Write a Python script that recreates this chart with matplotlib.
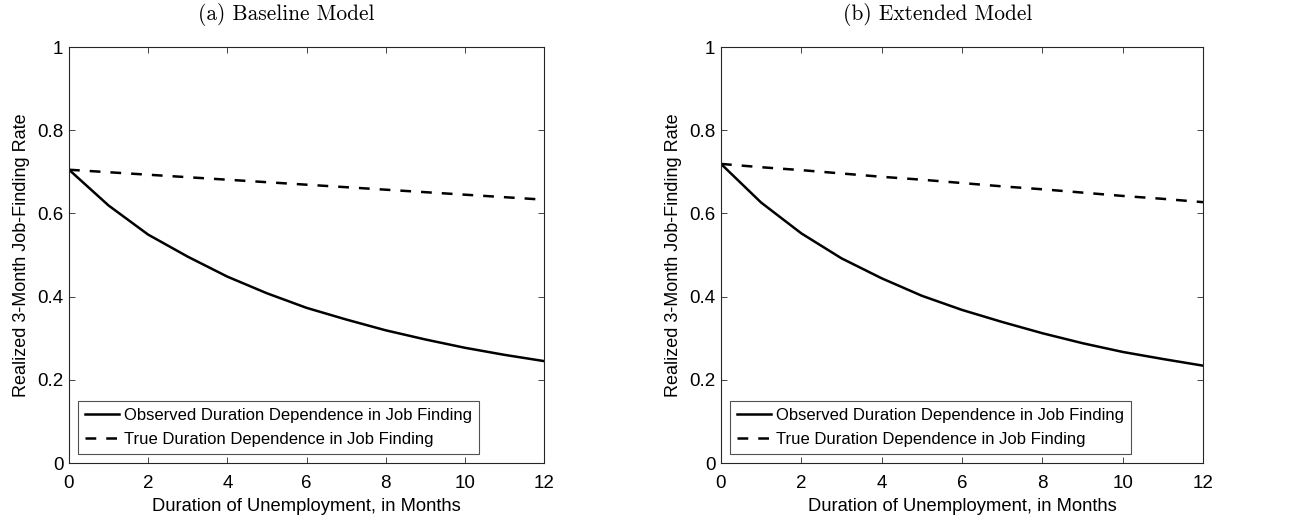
import matplotlib.pyplot as plt
import numpy as np

months = np.arange(0, 13)

# (a) baseline model
base_observed = [0.705, 0.619, 0.549, 0.496, 0.448, 0.408, 0.373, 0.345, 0.319, 0.297, 0.277, 0.260, 0.245]
base_true = [0.705, 0.699, 0.693, 0.687, 0.681, 0.675, 0.669, 0.663, 0.657, 0.651, 0.645, 0.639, 0.633]

# (b) extended model
ext_observed = [0.719, 0.626, 0.552, 0.492, 0.444, 0.402, 0.368, 0.339, 0.312, 0.288, 0.267, 0.250, 0.234]
ext_true = [0.719, 0.711, 0.704, 0.696, 0.688, 0.681, 0.673, 0.665, 0.658, 0.650, 0.642, 0.635, 0.627]

titles = ['(a) Baseline Model', '(b) Extended Model']
obs_label = 'Observed Duration Dependence in Job Finding'
true_label = 'True Duration Dependence in Job Finding'

plt.rcParams['font.family'] = ['Liberation Sans', 'DejaVu Sans']
plt.rcParams['axes.edgecolor'] = '#262626'

W, H = 1291, 524
fig = plt.figure(figsize=(W / 100, H / 100), dpi=100)

# axes boxes in pixels: left, right, top, bottom
boxes = [(69, 544, 47, 463), (721, 1203, 47, 463)]
title_x = [286, 938]

for k, (obs, tru) in enumerate([(base_observed, base_true), (ext_observed, ext_true)]):
    l, r, t, b = boxes[k]
    ax = fig.add_axes([l / W, 1 - b / H, (r - l) / W, (b - t) / H])
    ax.plot(months, obs, 'k-', lw=1.8, label=obs_label)
    ax.plot(months, tru, 'k--', lw=1.8, dashes=(4.3, 4), label=true_label)
    ax.set_xlim(0, 12)
    ax.set_ylim(0, 1)
    ax.set_xticks(range(0, 13, 2))
    ax.set_yticks([0, 0.2, 0.4, 0.6, 0.8, 1])
    ax.set_yticklabels(['0', '0.2', '0.4', '0.6', '0.8', '1'])
    ax.tick_params(direction='in', top=True, right=True, labelsize=13.5,
                   length=4, width=0.6, color='#262626')
    ax.tick_params(axis='x', pad=9)
    ax.tick_params(axis='y', pad=4)
    for sp in ax.spines.values():
        sp.set_linewidth(0.8)
    ax.set_xlabel('Duration of Unemployment, in Months', fontsize=13.2, labelpad=4)
    ax.set_ylabel('Realized 3-Month Job-Finding Rate', fontsize=13, labelpad=5)
    leg = ax.legend(loc='lower left', fontsize=12, frameon=True, fancybox=False,
                    edgecolor='#262626', borderaxespad=0.55, handlelength=2.05,
                    handletextpad=0.25, borderpad=0.42, labelspacing=0.55)
    leg.get_frame().set_linewidth(0.8)
    fig.text(title_x[k] / W, 1 - 14 / H, titles[k], family='cmr10',
             fontsize=15.4, ha='center', va='center')

fig.savefig('out.png', dpi=100)
